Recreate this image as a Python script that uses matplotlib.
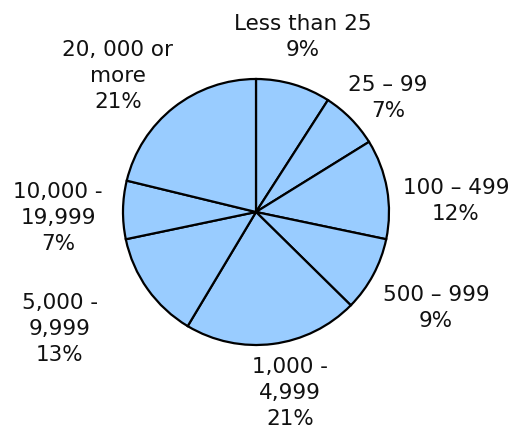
import matplotlib
matplotlib.use("Agg")
import matplotlib.pyplot as plt

categories = ["Less than 25", "25 \u2013 99", "100 \u2013 499", "500 \u2013 999",
              "1,000 -\n4,999", "5,000 -\n9,999", "10,000 -\n19,999", "20, 000 or\nmore"]
values = [9, 7, 12, 9, 21, 13, 7, 21]

# label centre positions in pixels (layout only)
label_px = [(303, 37), (388, 98), (456, 201), (436, 308),
            (290, 393), (60, 329), (58, 218), (118, 76)]

W, H = 512, 432
cx, cy, R = 256, 212, 133

fig = plt.figure(figsize=(W / 100, H / 100), dpi=100)
ax = fig.add_axes([0, 0, 1, 1])
ax.pie(values, startangle=90, counterclock=False, radius=1,
       colors=["#99CCFF"] * len(values),
       wedgeprops=dict(edgecolor="black", linewidth=1.6))
ax.set_xlim(-cx / R, (W - cx) / R)
ax.set_ylim(-(H - cy) / R, cy / R)
ax.set_aspect("equal")
ax.axis("off")

for cat, v, (px, py) in zip(categories, values, label_px):
    fig.text(px / W, 1 - py / H, f"{cat}\n{v}%", ha="center", va="center",
             fontsize=15.5, color="#111111", linespacing=1.38,
             family="DejaVu Sans")

fig.savefig("out.png", dpi=100)
